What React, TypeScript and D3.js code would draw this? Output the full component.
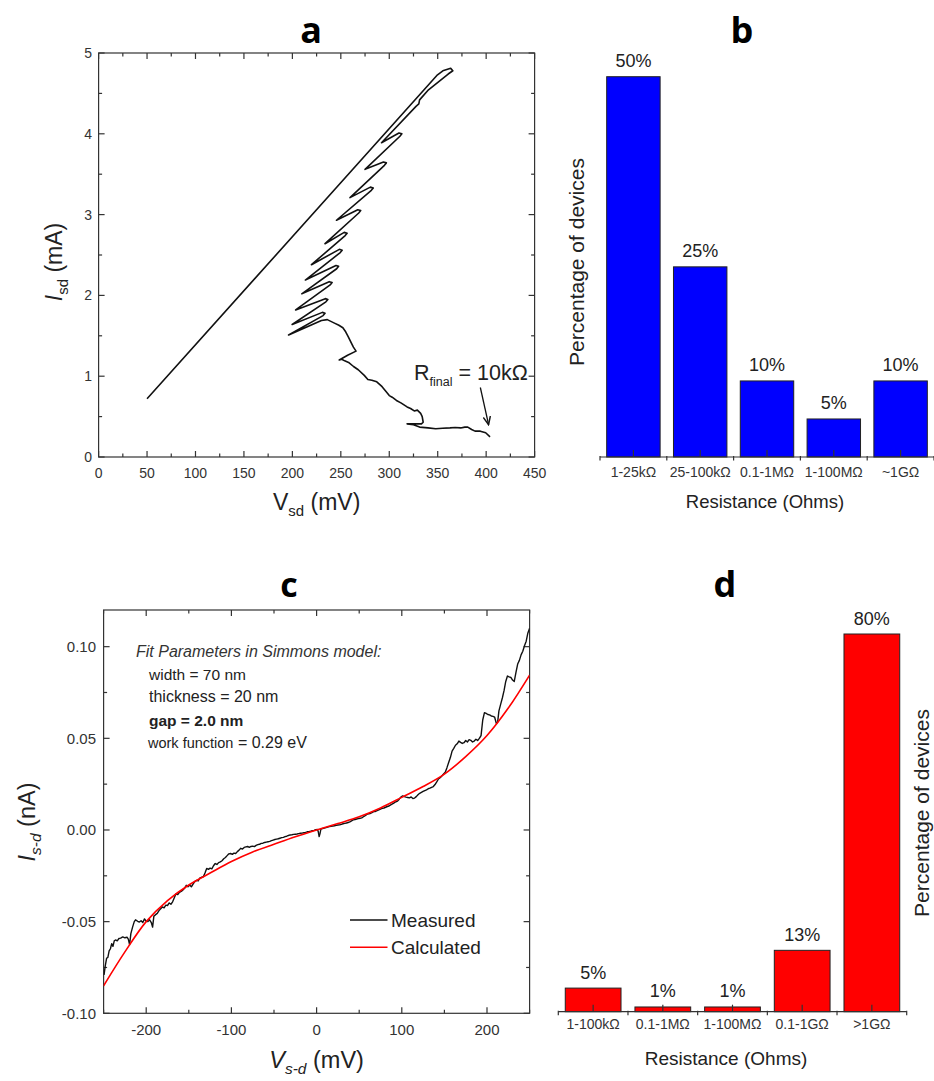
import React from "react";
import * as d3 from "d3";

// ---------- Panel a data (I-V electromigration trace) ----------
const aVoltage = [
  50, 349.8, 355.3, 363.4, 365.6, 360.8, 340.5, 331.3, 330.5, 327.6,
  292, 310, 313, 311,
  275, 294, 297, 295,
  259.5, 280.5, 283.5, 281.5,
  245.5, 267.5, 270.5, 268.5,
  233.7, 253.5, 256.5, 254.5,
  219.7, 248.5, 251.4, 249.4,
  213.4, 245, 247.7, 245.7,
  209.7, 238, 241, 239,
  203.4, 234, 236.6, 234.6,
  199.8, 231, 233.7, 231.7,
  196.1,
  230, 236, 242.9, 248, 252.1, 255, 257.6, 261.3, 263, 265.7, 257, 248.4, 251, 254, 258, 263.1, 268,
  274.2, 277.9, 282, 287.1, 292.6, 296, 300, 303, 307.4, 312, 318.4, 322, 325.8, 329, 332.4, 334,
  335, 333.2, 318.4, 325, 331.3, 340, 347.9, 355, 362.6, 368, 373.7, 378, 381, 385, 388.5, 394, 399.5, 404,
];
const aCurrent = [
  0.72, 4.73, 4.78, 4.81, 4.78, 4.74, 4.545, 4.42, 4.37, 4.34,
  3.89, 4.01, 4.0, 3.97,
  3.56, 3.65, 3.64, 3.61,
  3.21, 3.34, 3.33, 3.3,
  2.93, 3.06, 3.05, 3.02,
  2.64, 2.78, 2.77, 2.74,
  2.38, 2.57, 2.56, 2.53,
  2.19, 2.37, 2.36, 2.33,
  2.02, 2.17, 2.16, 2.13,
  1.82, 1.96, 1.95, 1.92,
  1.64, 1.79, 1.78, 1.75,
  1.51,
  1.69, 1.7, 1.66, 1.63, 1.6, 1.55, 1.49, 1.4, 1.36, 1.31, 1.26, 1.2, 1.21, 1.19, 1.17, 1.12, 1.08,
  1.01, 0.96, 0.95, 0.93, 0.87, 0.82, 0.76, 0.74, 0.7, 0.67, 0.62, 0.6, 0.57, 0.58, 0.54, 0.5,
  0.43, 0.41, 0.41, 0.4, 0.37, 0.36, 0.35, 0.355, 0.36, 0.365, 0.36, 0.37, 0.37, 0.34, 0.32, 0.32, 0.3, 0.25,
];
const aXTicks = [0, 50, 100, 150, 200, 250, 300, 350, 400, 450];
const aYTicks = [0, 1, 2, 3, 4, 5];
const aArrowV = [394, 402.5];
const aArrowI = [0.86, 0.4];

// ---------- Panel b data ----------
const bCategories = ["1-25kΩ", "25-100kΩ", "0.1-1MΩ", "1-100MΩ", "~1GΩ"];
const bPercent = [50, 25, 10, 5, 10];

// ---------- Panel c data ----------
const cCalcV = [-250, -225, -200, -175, -150, -125, -100, -75, -50, -25, 0, 25, 50, 75, 100, 125, 150, 175, 200, 225, 250];
const cCalcI = [-0.085, -0.0665, -0.05, -0.0385, -0.03, -0.0235, -0.0172, -0.012, -0.0078, -0.0037, 0, 0.0035, 0.0072, 0.012, 0.0178, 0.0237, 0.0305, 0.04, 0.0515, 0.0665, 0.0845];
const cMeasV = [
  -249.5, -248, -246.5, -245, -243.5, -242, -240.5, -239, -237.5, -236, -234, -232, -230, -227.5, -225, -222.5, -221, -219.5, -218, -216,
  -214, -212.5, -210, -208, -206, -204, -202, -200, -198, -196, -194, -192.5, -191, -189, -187, -185, -183, -181, -179, -177,
  -175, -173, -171, -169, -167, -165, -163, -161, -159, -157, -155, -153, -151, -149, -147, -145, -143, -141, -139, -137,
  -135, -133, -131, -129, -127, -125, -123, -121, -119, -117, -115, -113, -111, -109, -107, -105, -103, -101, -99, -97,
  -95, -93, -91, -89, -87, -85, -83, -81, -79, -77, -75, -73, -71, -69, -67, -65, -63, -61, -59, -57,
  -55, -53, -51, -49, -47, -45, -43, -41, -39, -37, -35, -33, -31, -29, -27, -25, -23, -21, -19, -17,
  -15, -13, -11, -9, -7, -5, -3, -1, 1, 2, 3, 4, 5, 7, 9, 11, 13, 15, 17, 19,
  21, 23, 25, 27, 29, 31, 33, 35, 37, 39, 41, 43, 45, 47, 49, 51, 53, 55, 57, 59,
  61, 63, 65, 67, 69, 71, 73, 75, 77, 79, 81, 83, 85, 87, 89, 91, 93, 95, 97, 99,
  101, 103, 105, 107, 109, 111, 113, 115, 117, 119, 121, 123, 125, 127, 129, 131, 133, 135, 137, 139,
  141, 143, 145, 147, 149, 151, 153, 155, 157, 159, 161, 163, 165, 167, 169, 171, 173, 175, 177, 179,
  181, 183, 185, 187, 189, 191, 193, 195, 197, 199, 201, 203, 205, 207, 209, 211, 212.5, 214, 216, 218,
  220, 222, 224, 226, 228, 230, 232, 234, 236, 238, 240, 242, 244, 246, 248, 250,
];
const cMeasI = [
  -0.079, -0.074, -0.07, -0.0695, -0.066, -0.0648, -0.062, -0.0635, -0.0605, -0.06, -0.0605, -0.0592, -0.059, -0.0583, -0.0588, -0.0585, -0.0595, -0.0625, -0.0565, -0.053,
  -0.05, -0.049, -0.0498, -0.0502, -0.0495, -0.0505, -0.0485, -0.0498, -0.05, -0.049, -0.0505, -0.053, -0.047, -0.0462, -0.0455, -0.044, -0.043, -0.042, -0.0425, -0.041,
  -0.0412, -0.0398, -0.0405, -0.0392, -0.037, -0.0348, -0.0352, -0.034, -0.0335, -0.0328, -0.0318, -0.0302, -0.031, -0.03, -0.031, -0.0295, -0.0282, -0.0275, -0.0278, -0.0262,
  -0.0258, -0.0255, -0.0235, -0.021, -0.0215, -0.0208, -0.0212, -0.0195, -0.0183, -0.0188, -0.0178, -0.0174, -0.0168, -0.0157, -0.015, -0.014, -0.013, -0.0128, -0.0133, -0.0126,
  -0.0128, -0.0118, -0.011, -0.01, -0.0104, -0.0095, -0.0092, -0.009, -0.0095, -0.009, -0.0088, -0.0091, -0.0084, -0.008, -0.0078, -0.0073, -0.0072, -0.0068, -0.0066, -0.0064,
  -0.0062, -0.0058, -0.0055, -0.0052, -0.005, -0.0048, -0.0045, -0.0042, -0.004, -0.0036, -0.0034, -0.003, -0.0027, -0.0026, -0.0024, -0.0023, -0.0022, -0.002, -0.0018, -0.0017,
  -0.0015, -0.0013, -0.001, -0.0009, -0.0007, -0.0004, -0.0002, 0.0002, 0.0003, -0.001, -0.0036, -0.002, 0.0005, 0.0008, 0.001, 0.0013, 0.0016, 0.0018, 0.002, 0.0021,
  0.0023, 0.0025, 0.0027, 0.0028, 0.0031, 0.0034, 0.0036, 0.0038, 0.0041, 0.0044, 0.005, 0.0055, 0.0057, 0.006, 0.0062, 0.0064, 0.0066, 0.0072, 0.0078, 0.0085,
  0.0088, 0.009, 0.0095, 0.01, 0.0101, 0.0106, 0.011, 0.0114, 0.0118, 0.012, 0.0124, 0.0128, 0.0131, 0.0137, 0.0142, 0.0148, 0.0154, 0.0158, 0.0168, 0.018,
  0.0186, 0.0182, 0.0179, 0.0177, 0.0175, 0.018, 0.0172, 0.0174, 0.0182, 0.0192, 0.02, 0.0205, 0.021, 0.0215, 0.0219, 0.0225, 0.0228, 0.0233, 0.0237, 0.0248,
  0.0262, 0.0278, 0.0285, 0.0295, 0.0305, 0.0315, 0.034, 0.0368, 0.0395, 0.043, 0.0445, 0.0462, 0.047, 0.0485, 0.0478, 0.0472, 0.0476, 0.0488, 0.048, 0.0493,
  0.0489, 0.048, 0.0485, 0.0495, 0.0488, 0.05, 0.0515, 0.06, 0.064, 0.0636, 0.063, 0.0628, 0.0622, 0.062, 0.0615, 0.058, 0.059, 0.065, 0.0685, 0.072,
  0.076, 0.081, 0.084, 0.0835, 0.0832, 0.0818, 0.081, 0.086, 0.0905, 0.0925, 0.0955, 0.0975, 0.1005, 0.103, 0.1075, 0.11,
];
const cXTicks = [-200, -100, 0, 100, 200];
const cYTicks = [-0.1, -0.05, 0, 0.05, 0.1];
const cLegend = ["Measured", "Calculated"];

// ---------- Panel d data ----------
const dCategories = ["1-100kΩ", "0.1-1MΩ", "1-100MΩ", "0.1-1GΩ", ">1GΩ"];
const dPercent = [5, 1, 1, 13, 80];

const SANS = "'Liberation Sans', Arial, Helvetica, sans-serif";
const TITLE = "'Open Sans', 'DejaVu Sans', sans-serif";
const AX = "#333";
const TXT = "#222";

function Frame({ xs, ys, xMajor, xMinor, yMajor, yMinor }: any) {
  const [x0, x1] = xs.range();
  const [y1, y0] = ys.range();
  const M = 6, m = 3.5;
  const els: any[] = [];
  xMajor.forEach((v: number, i: number) => {
    const x = xs(v);
    els.push(<line key={"xb" + i} x1={x} x2={x} y1={y1} y2={y1 - M} />);
    els.push(<line key={"xt" + i} x1={x} x2={x} y1={y0} y2={y0 + M} />);
  });
  xMinor.forEach((v: number, i: number) => {
    const x = xs(v);
    els.push(<line key={"xbm" + i} x1={x} x2={x} y1={y1} y2={y1 - m} />);
    els.push(<line key={"xtm" + i} x1={x} x2={x} y1={y0} y2={y0 + m} />);
  });
  yMajor.forEach((v: number, i: number) => {
    const y = ys(v);
    els.push(<line key={"yl" + i} x1={x0} x2={x0 + M} y1={y} y2={y} />);
    els.push(<line key={"yr" + i} x1={x1} x2={x1 - M} y1={y} y2={y} />);
  });
  yMinor.forEach((v: number, i: number) => {
    const y = ys(v);
    els.push(<line key={"ylm" + i} x1={x0} x2={x0 + m} y1={y} y2={y} />);
    els.push(<line key={"yrm" + i} x1={x1} x2={x1 - m} y1={y} y2={y} />);
  });
  return (
    <g stroke={AX} strokeWidth={1.2} fill="none">
      <rect x={x0} y={y0} width={x1 - x0} height={y1 - y0} />
      {els}
    </g>
  );
}

function BarPanel({ cats, vals, xs, ys, color, labelY, valueGap }: any) {
  const bw = xs.bandwidth();
  const step = xs.step();
  const base = ys(0);
  const [r0, r1] = xs.range();
  const bounds = cats.map((c: string) => xs(c) - step * 0.1).concat([xs(cats[cats.length - 1]) + bw + step * 0.1]);
  return (
    <g>
      {cats.map((c: string, i: number) => (
        <rect key={c} x={xs(c)} y={ys(vals[i])} width={bw} height={base - ys(vals[i])} fill={color} stroke="#222" strokeWidth={1} />
      ))}
      <line x1={r0} x2={r1} y1={base} y2={base} stroke={AX} strokeWidth={1.2} />
      {cats.map((c: string) => (
        <line key={"t" + c} x1={xs(c) + bw / 2} x2={xs(c) + bw / 2} y1={base} y2={base - 7} stroke={AX} strokeWidth={1.2} />
      ))}
      {bounds.map((b: number, i: number) => (
        <line key={"b" + i} x1={b} x2={b} y1={base - 1} y2={base + 3.5} stroke={AX} strokeWidth={1.2} />
      ))}
      {cats.map((c: string) => (
        <text key={"l" + c} x={xs(c) + bw / 2} y={labelY} textAnchor="middle" fontSize={14} fill={AX} fontFamily={SANS}>
          {c}
        </text>
      ))}
      {cats.map((c: string, i: number) => (
        <text key={"v" + c} x={xs(c) + bw / 2} y={ys(vals[i]) - valueGap} textAnchor="middle" fontSize={18} fill={TXT} fontFamily={SANS}>
          {vals[i] + "%"}
        </text>
      ))}
    </g>
  );
}

export default function App() {
  // Panel a scales
  const ax = d3.scaleLinear().domain([0, 450]).range([98.6, 534.6]);
  const ay = d3.scaleLinear().domain([0, 5]).range([457, 53]);
  const aLine = d3.line<number>().x((_, i) => ax(aVoltage[i])).y((_, i) => ay(aCurrent[i]));
  const aPath = aLine(aVoltage as any) || "";
  const aXMinor = d3.range(25, 450, 50);
  const aYMinor = d3.range(0.5, 5, 1);

  // Panel b scales
  const bx = d3.scaleBand().domain(bCategories).range([600, 934]).paddingInner(0.2).paddingOuter(0.1);
  const by = d3.scaleLinear().domain([0, 50]).range([457, 76.7]);

  // Panel c scales
  const cx = d3.scaleLinear().domain([-250, 250]).range([103.6, 529.6]);
  const cy = d3.scaleLinear().domain([-0.1, 0.12]).range([1013.3, 610]);
  const cMeasPath =
    d3.line<number>().x((_, i) => cx(cMeasV[i])).y((_, i) => cy(cMeasI[i]))(cMeasV as any) || "";
  const cCalcPath =
    d3
      .line<number>()
      .x((_, i) => cx(cCalcV[i]))
      .y((_, i) => cy(cCalcI[i]))
      .curve(d3.curveCatmullRom)(cCalcV as any) || "";
  const cXMinor = d3.range(-250, 251, 100);
  const cYMinor = [-0.075, -0.025, 0.025, 0.075];

  // Panel d scales
  const dx = d3.scaleBand().domain(dCategories).range([558.3, 906.7]).paddingInner(0.2).paddingOuter(0.1);
  const dy = d3.scaleLinear().domain([0, 80]).range([1011.7, 634]);

  const fmtC = (v: number) => (Math.abs(v) < 1e-9 ? "0.00" : v.toFixed(2));
  const aMid = (ax.range()[0] + ax.range()[1]) / 2;
  const cMid = (cx.range()[0] + cx.range()[1]) / 2;

  return (
    <svg width={934} height={1081} style={{ position: "absolute", left: 0, top: 0, background: "#fff" }} fontFamily={SANS}>
      <defs>
        <clipPath id="clipC">
          <rect x={103.6} y={610} width={426} height={403.3} />
        </clipPath>
        <marker id="arrowHead" viewBox="0 0 10 10" refX={9} refY={5} markerWidth={9} markerHeight={9} orient="auto" markerUnits="userSpaceOnUse">
          <path d="M0,1 L9,5 L0,9" fill="none" stroke="#111" strokeWidth={1.6} />
        </marker>
      </defs>
      <rect x={0} y={0} width={934} height={1081} fill="#fff" />

      {/* ---------- Panel a ---------- */}
      <text x={311} y={43} textAnchor="middle" fontSize={36} fontWeight={700} fontFamily={TITLE} fill="#000">a</text>
      <Frame xs={ax} ys={ay} xMajor={aXTicks} xMinor={aXMinor} yMajor={aYTicks} yMinor={aYMinor} />
      {aXTicks.map((t) => (
        <text key={"ax" + t} x={ax(t)} y={478} textAnchor="middle" fontSize={14} fill={AX}>{t}</text>
      ))}
      {aYTicks.map((t) => (
        <text key={"ay" + t} x={92} y={ay(t) + 5} textAnchor="end" fontSize={14} fill={AX}>{t}</text>
      ))}
      <path d={aPath} fill="none" stroke="#111" strokeWidth={1.6} strokeLinejoin="round" />
      <line x1={ax(aArrowV[0])} y1={ay(aArrowI[0])} x2={ax(aArrowV[1])} y2={ay(aArrowI[1])} stroke="#111" strokeWidth={1.3} markerEnd="url(#arrowHead)" />
      <text x={414} y={380} fontSize={21.5} fill={TXT}>
        R<tspan fontSize={12.5} dy={6}>final</tspan>
        <tspan dy={-6}> = 10kΩ</tspan>
      </text>
      <text x={aMid} y={510} textAnchor="middle" fontSize={23} fill={TXT}>
        V<tspan fontSize={15} dy={6}>sd</tspan>
        <tspan dy={-6}> (mV)</tspan>
      </text>
      <text transform="translate(62,262) rotate(-90)" textAnchor="middle" fontSize={23} fill={TXT}>
        <tspan fontStyle="italic">I</tspan>
        <tspan fontSize={15} dy={6}>sd</tspan>
        <tspan dy={-6}> (mA)</tspan>
      </text>

      {/* ---------- Panel b ---------- */}
      <text x={742} y={43} textAnchor="middle" fontSize={36} fontWeight={700} fontFamily={TITLE} fill="#000">b</text>
      <BarPanel cats={bCategories} vals={bPercent} xs={bx} ys={by} color="#0000ff" labelY={477} valueGap={10} />
      <text x={765} y={508} textAnchor="middle" fontSize={18.5} fill={TXT}>Resistance (Ohms)</text>
      <text transform="translate(584,262) rotate(-90)" textAnchor="middle" fontSize={21} fill={TXT}>Percentage of devices</text>

      {/* ---------- Panel c ---------- */}
      <text x={289} y={597} textAnchor="middle" fontSize={34} fontWeight={700} fontFamily={TITLE} fill="#000">c</text>
      <Frame xs={cx} ys={cy} xMajor={cXTicks} xMinor={cXMinor} yMajor={cYTicks} yMinor={cYMinor} />
      {cXTicks.map((t) => (
        <text key={"cx" + t} x={cx(t)} y={1034.5} textAnchor="middle" fontSize={15} fill={AX}>{t}</text>
      ))}
      {cYTicks.map((t) => (
        <text key={"cy" + t} x={96} y={cy(t) + 5.4} textAnchor="end" fontSize={15} fill={AX}>{fmtC(t)}</text>
      ))}
      <g clipPath="url(#clipC)">
        <path d={cMeasPath} fill="none" stroke="#111" strokeWidth={1.4} strokeLinejoin="round" />
        <path d={cCalcPath} fill="none" stroke="#ff0000" strokeWidth={1.6} />
      </g>
      <text x={136} y={657} fontSize={16} fontStyle="italic" fill={AX}>Fit Parameters in Simmons model:</text>
      <text x={149} y={679.5} fontSize={15.5} fill={TXT}>width = 70 nm</text>
      <text x={149} y={702} fontSize={16} fill={TXT}>thickness = 20 nm</text>
      <text x={149} y={725.5} fontSize={15.5} fontWeight={700} fill={TXT}>gap = 2.0 nm</text>
      <text x={148} y={748} fill={TXT}>
        <tspan fontSize={14.5}>work function</tspan>
        <tspan fontSize={16}> = 0.29 eV</tspan>
      </text>
      <line x1={350} x2={387.5} y1={920} y2={920} stroke="#111" strokeWidth={1.5} />
      <text x={391} y={926.5} fontSize={19} fill={TXT}>{cLegend[0]}</text>
      <line x1={350} x2={387.5} y1={947.3} y2={947.3} stroke="#ff0000" strokeWidth={1.6} />
      <text x={391} y={953.5} fontSize={19} fill={TXT}>{cLegend[1]}</text>
      <text x={cMid} y={1068} textAnchor="middle" fontSize={23.5} fill={TXT}>
        <tspan fontStyle="italic">V</tspan>
        <tspan fontSize={15.5} dy={6} fontStyle="italic">s-d</tspan>
        <tspan dy={-6}> (mV)</tspan>
      </text>
      <text transform="translate(35,822) rotate(-90)" textAnchor="middle" fontSize={23.5} fill={TXT}>
        <tspan fontStyle="italic">I</tspan>
        <tspan fontSize={15.5} dy={6} fontStyle="italic">s-d</tspan>
        <tspan dy={-6}> (nA)</tspan>
      </text>

      {/* ---------- Panel d ---------- */}
      <text x={725} y={597} textAnchor="middle" fontSize={36} fontWeight={700} fontFamily={TITLE} fill="#000">d</text>
      <BarPanel cats={dCategories} vals={dPercent} xs={dx} ys={dy} color="#ff0000" labelY={1029} valueGap={9.5} />
      <text x={726} y={1065} textAnchor="middle" fontSize={19} fill={TXT}>Resistance (Ohms)</text>
      <text transform="translate(929,813) rotate(-90)" textAnchor="middle" fontSize={21} fill={TXT}>Percentage of devices</text>
    </svg>
  );
}
